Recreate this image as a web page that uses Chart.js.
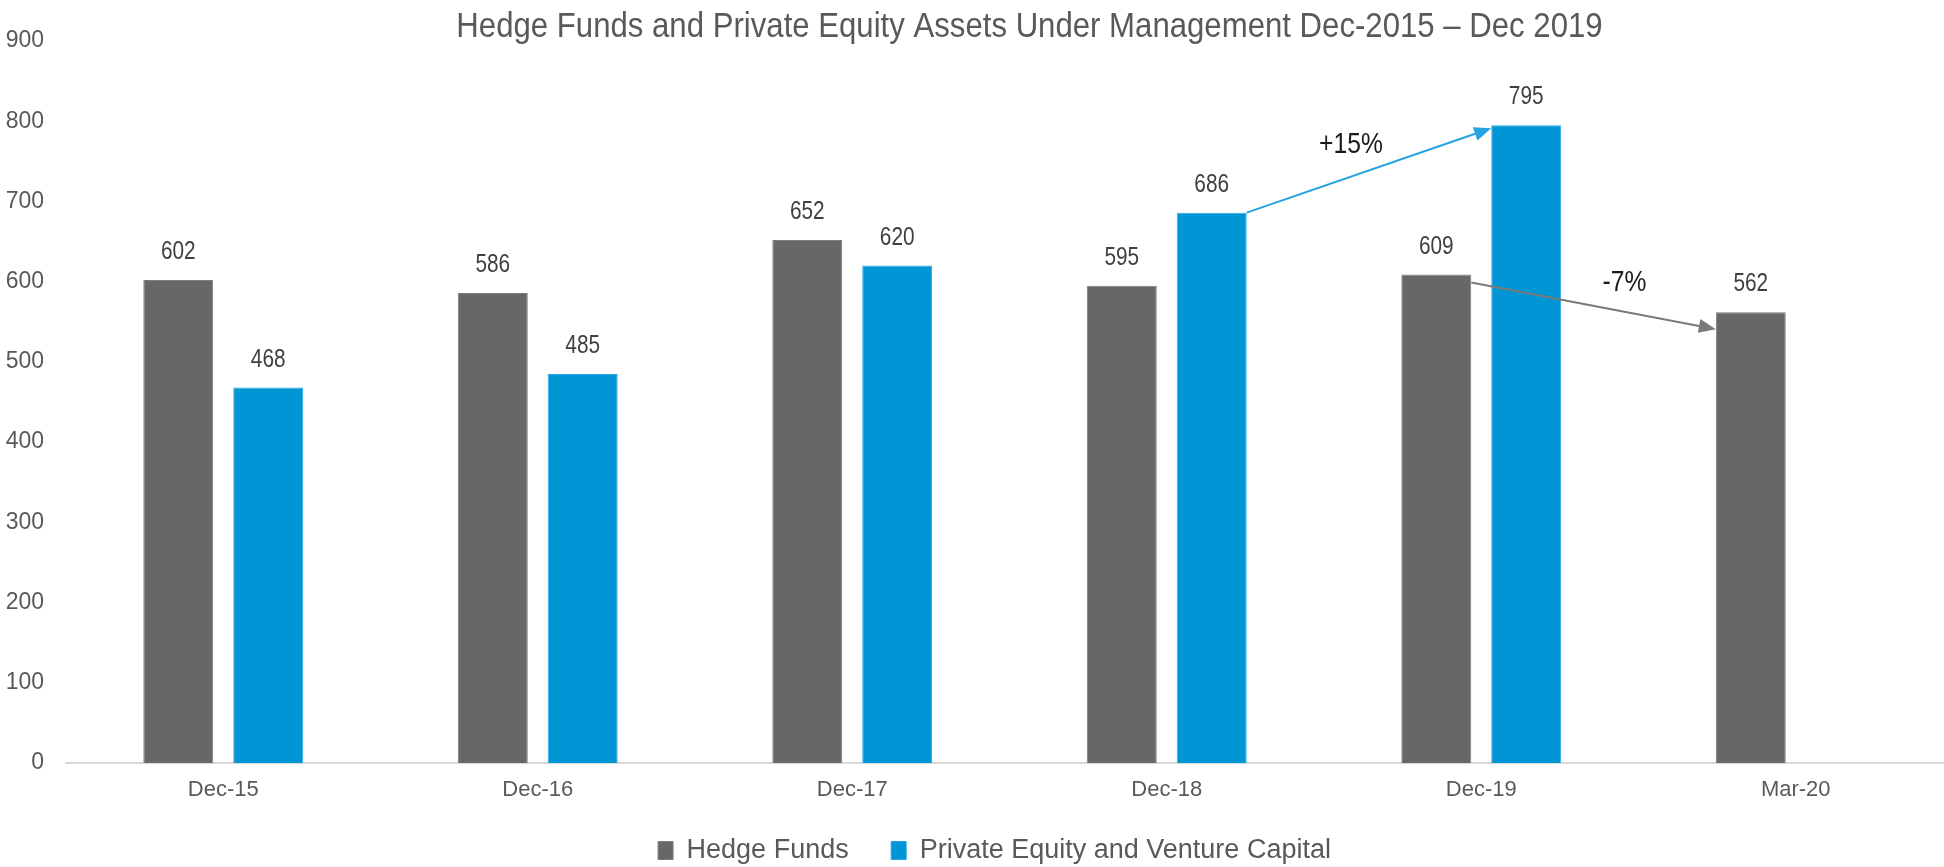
<!DOCTYPE html>
<html>
<head>
<meta charset="utf-8">
<script src="https://cdn.jsdelivr.net/npm/chart.js@4/dist/chart.umd.min.js"></script>
<style>
  html, body { margin: 0; padding: 0; background: #fff; overflow: hidden; }
</style>
</head>
<body>
<canvas id="aum" width="1982" height="874"></canvas>
<script>
// values
const categories = ['Dec-15', 'Dec-16', 'Dec-17', 'Dec-18', 'Dec-19', 'Mar-20'];
const hedgeFunds = [602, 586, 652, 595, 609, 562];
const privateEquity = [468, 485, 620, 686, 795, null];
const seriesNames = ['Hedge Funds', 'Private Equity and Venture Capital'];
const changeText = ['+15%', '-7%'];
const yMax = 900;
const yStep = 100;

const FONT = "'Liberation Sans Narrow', 'Arial Narrow', 'Liberation Sans', Arial, sans-serif";
const GREY = '#676767';
const BLUE = '#0096d6';

// no narrow font installed, so squeeze text horizontally
function narrowText(ctx, text, x, y, sx) {
  ctx.save();
  ctx.translate(x, y);
  ctx.scale(sx, 1);
  ctx.fillText(text, 0, 0);
  ctx.restore();
}

const titlePlugin = {
  id: 'titleText',
  afterDraw(chart) {
    const ctx = chart.ctx;
    const a = chart.chartArea;
    ctx.save();
    ctx.font = '35px ' + FONT;
    ctx.fillStyle = '#595959';
    ctx.textAlign = 'center';
    ctx.textBaseline = 'middle';
    narrowText(ctx, 'Hedge Funds and Private Equity Assets Under Management Dec-2015 \u2013 Dec 2019',
      (a.left + a.right) / 2 + 20, 27, 0.89);
    ctx.restore();
  }
};

// value labels above every bar
const valueLabels = {
  id: 'valueLabels',
  afterDatasetsDraw(chart) {
    const ctx = chart.ctx;
    ctx.save();
    ctx.font = '26px ' + FONT;
    ctx.fillStyle = '#404040';
    ctx.textAlign = 'center';
    ctx.textBaseline = 'middle';
    chart.data.datasets.forEach((ds, di) => {
      chart.getDatasetMeta(di).data.forEach((bar, i) => {
        if (ds.data[i] == null) return;
        narrowText(ctx, String(ds.data[i]), bar.x, bar.y - 28, 0.8);
      });
    });
    ctx.restore();
  }
};

function arrow(ctx, x1, y1, x2, y2, color) {
  const ang = Math.atan2(y2 - y1, x2 - x1);
  const len = 17, half = 7;
  ctx.strokeStyle = color;
  ctx.fillStyle = color;
  ctx.lineWidth = 2;
  ctx.beginPath();
  ctx.moveTo(x1, y1);
  ctx.lineTo(x2 - Math.cos(ang) * len, y2 - Math.sin(ang) * len);
  ctx.stroke();
  ctx.beginPath();
  ctx.moveTo(x2, y2);
  ctx.lineTo(x2 - Math.cos(ang) * len - Math.sin(ang) * half, y2 - Math.sin(ang) * len + Math.cos(ang) * half);
  ctx.lineTo(x2 - Math.cos(ang) * len + Math.sin(ang) * half, y2 - Math.sin(ang) * len - Math.cos(ang) * half);
  ctx.closePath();
  ctx.fill();
}

// growth arrows between bars, anchored on the bar elements
const changeArrows = {
  id: 'changeArrows',
  afterDatasetsDraw(chart) {
    const ctx = chart.ctx;
    const pe = chart.getDatasetMeta(1).data;
    const hf = chart.getDatasetMeta(0).data;
    ctx.save();
    ctx.font = '29px ' + FONT;
    ctx.textAlign = 'center';
    ctx.textBaseline = 'middle';

    let a = pe[3], b = pe[4];
    let x1 = a.x + a.width / 2, y1 = a.y;
    let x2 = b.x - b.width / 2, y2 = b.y + 3;
    arrow(ctx, x1, y1, x2, y2, '#25a2e2');
    ctx.fillStyle = '#1a1a1a';
    narrowText(ctx, changeText[0], (x1 + x2) / 2 - 18, (y1 + y2) / 2 - 25, 0.85);

    a = hf[4]; b = hf[5];
    x1 = a.x + a.width / 2; y1 = a.y + 8;
    x2 = b.x - b.width / 2; y2 = b.y + 17;
    arrow(ctx, x1, y1, x2, y2, '#7a7a7a');
    ctx.fillStyle = '#1a1a1a';
    narrowText(ctx, changeText[1], (x1 + x2) / 2 + 31, (y1 + y2) / 2 - 23, 0.85);
    ctx.restore();
  }
};

new Chart(document.getElementById('aum'), {
  type: 'bar',
  data: {
    labels: categories,
    datasets: [
      {
        label: seriesNames[0],
        data: hedgeFunds,
        backgroundColor: GREY,
        borderColor: '#7c7c7c',
        borderWidth: 1,
        categoryPercentage: 0.572,
        barPercentage: 0.778
      },
      {
        label: seriesNames[1],
        data: privateEquity,
        backgroundColor: BLUE,
        borderColor: '#2aa6e6',
        borderWidth: 1,
        categoryPercentage: 0.572,
        barPercentage: 0.778
      }
    ]
  },
  options: {
    responsive: false,
    animation: false,
    layout: { padding: { top: 41, right: 29, left: 0, bottom: 0 } },
    scales: {
      x: {
        afterFit(scale) { scale.height = 39; },
        grid: { display: false, drawTicks: false },
        border: { display: true, color: '#d9d9d9', width: 2 },
        ticks: { color: '#595959', font: { family: FONT, size: 22 }, padding: 14 }
      },
      y: {
        min: 0,
        max: yMax,
        afterFit(scale) { scale.width = 66; },
        grid: { display: false, drawTicks: false },
        border: { display: false },
        ticks: { stepSize: yStep, color: '#595959', font: { family: FONT, size: 23 }, padding: 22 }
      }
    },
    plugins: {
      title: { display: false },
      tooltip: { enabled: false },
      legend: {
        position: 'bottom',
        fullSize: false,
        labels: {
          color: '#595959',
          font: { family: FONT, size: 27 },
          boxWidth: 15,
          boxHeight: 18,
          padding: 35,
          generateLabels(chart) {
            const items = Chart.defaults.plugins.legend.labels.generateLabels(chart);
            items[0].text += ' ';
            items[1].text += '    ';
            return items;
          }
        }
      }
    }
  },
  plugins: [titlePlugin, valueLabels, changeArrows]
});
</script>
</body>
</html>
